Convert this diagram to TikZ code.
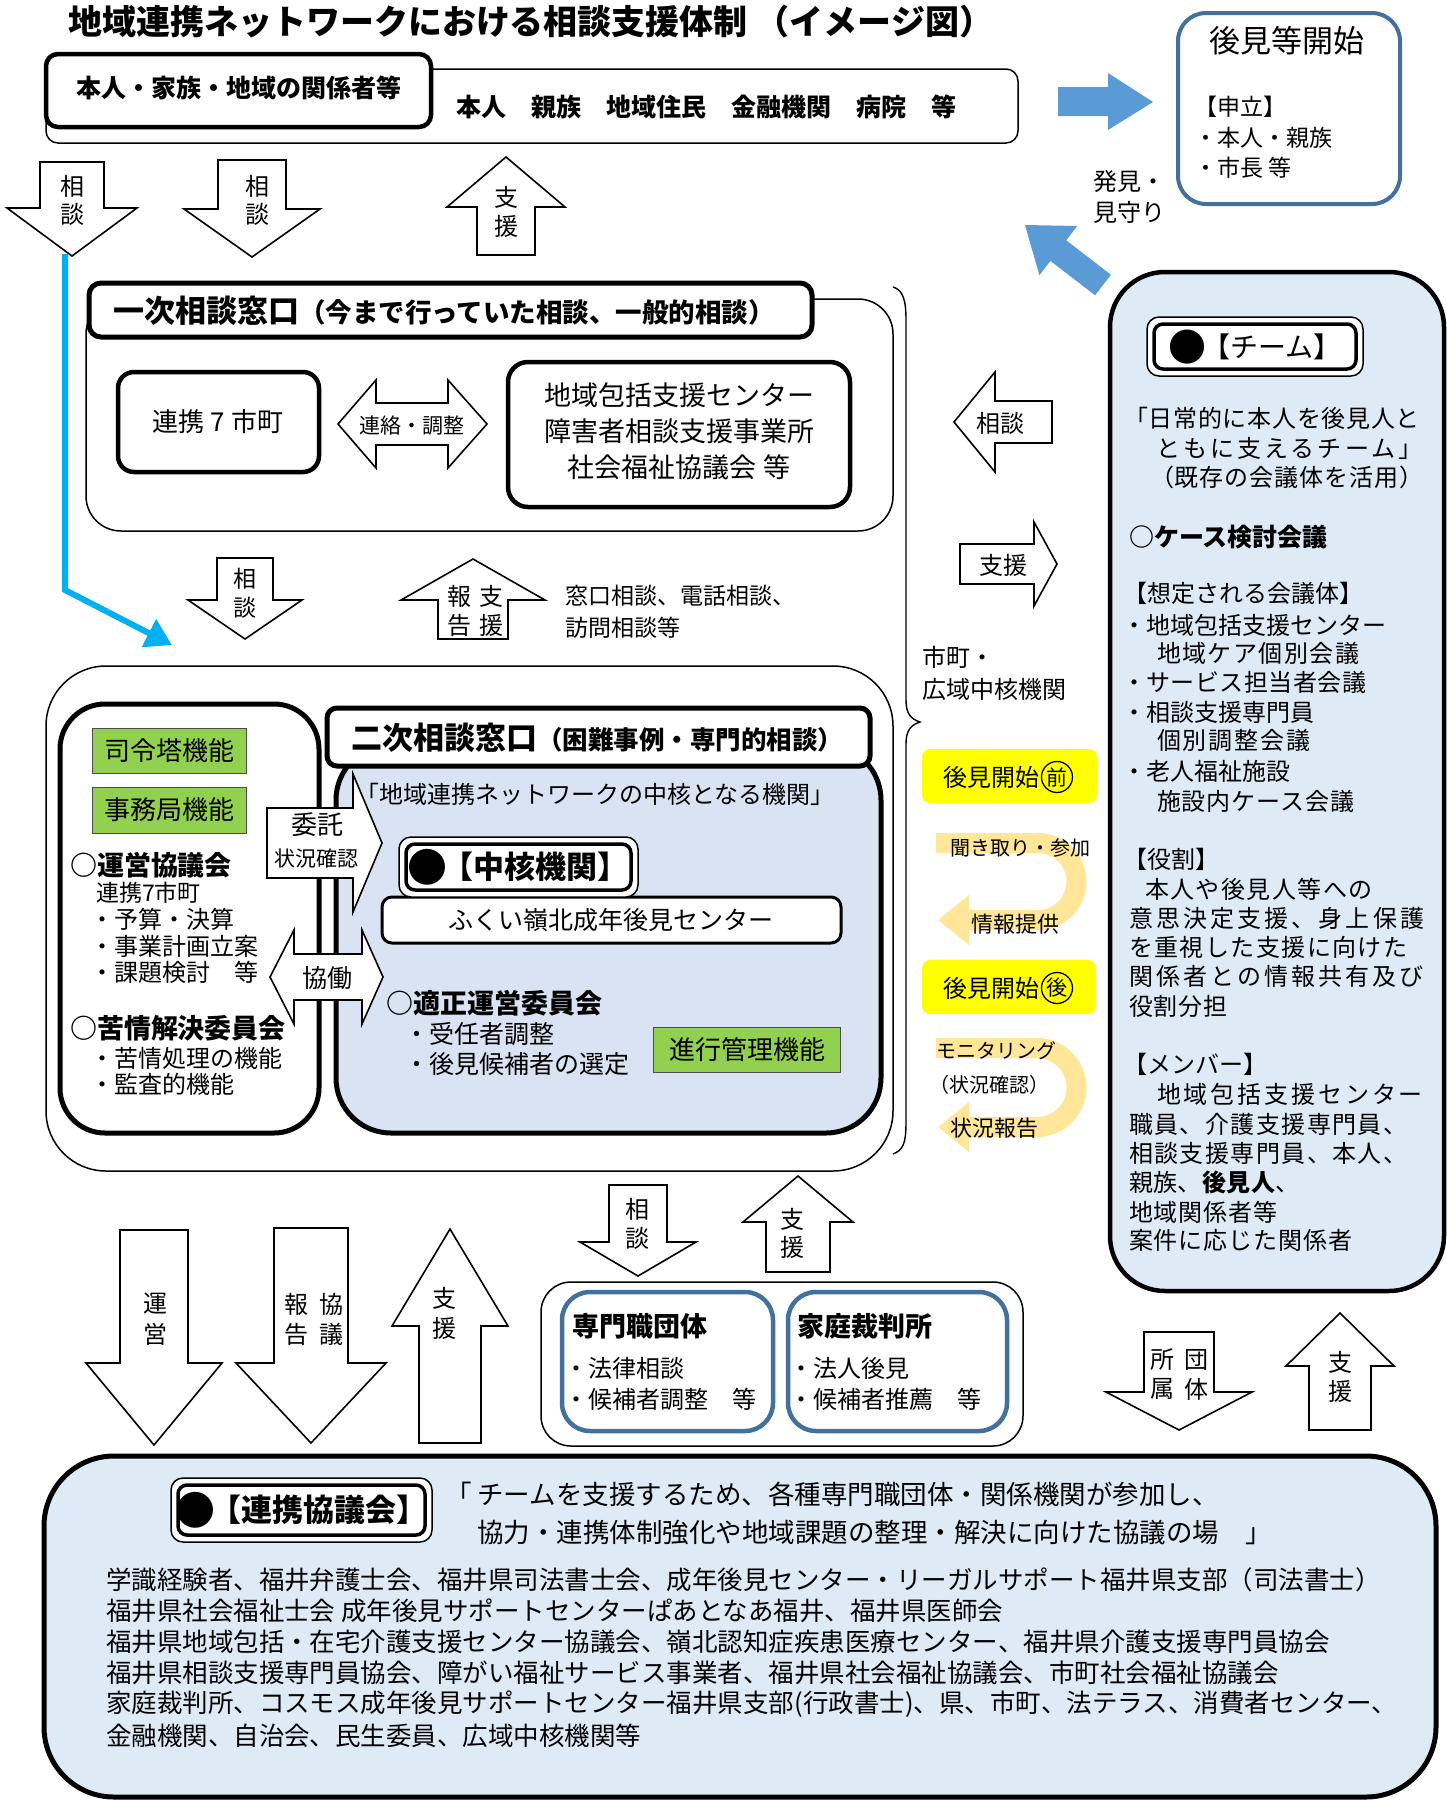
\documentclass[tikz,border=0pt]{standalone}
\usepackage{fontspec}
\setmainfont{Noto Sans CJK JP}
\usetikzlibrary{arrows.meta}
\definecolor{arrblue}{HTML}{5B9BD5}
\definecolor{cyanl}{HTML}{00B0F0}
\definecolor{bordblue}{HTML}{41719C}
\definecolor{teamfill}{HTML}{DEEBF7}
\definecolor{corefill}{HTML}{DAE3F3}
\definecolor{grn}{HTML}{92D050}
\definecolor{ylw}{HTML}{FFFF00}
\definecolor{org}{HTML}{FFE699}
\newcommand\fsz[1]{\fontsize{#1}{#1}\selectfont}
\newcommand\lsp[1]{\addfontfeature{LetterSpace=#1}}
\newcommand\bigdot[2]{\raisebox{#2}{\fontsize{#1}{#1}\selectfont ●}}
% vertical block arrow: cx, base y, shaft half, head base y, head half, tip y
\newcommand\vbarrow[6]{\draw[blk] ({#1-#3},#2) -- ({#1+#3},#2) -- ({#1+#3},#4) -- ({#1+#5},#4) -- (#1,#6) -- ({#1-#5},#4) -- ({#1-#3},#4) -- cycle;}
% horizontal block arrow: cy, tail x, shaft half, head base x, head half, tip x
\newcommand\hbarrow[6]{\draw[blk] (#2,{#1-#3}) -- (#4,{#1-#3}) -- (#4,{#1-#5}) -- (#6,#1) -- (#4,{#1+#5}) -- (#4,{#1+#3}) -- (#2,{#1+#3}) -- cycle;}
% double block arrow: cy, left tip, left head base, right head base, right tip, shaft half, head half
\newcommand\dbarrow[7]{\draw[blk] (#2,#1) -- (#3,{#1-#7}) -- (#3,{#1-#6}) -- (#4,{#1-#6}) -- (#4,{#1-#7}) -- (#5,#1) -- (#4,{#1+#7}) -- (#4,{#1+#6}) -- (#3,{#1+#6}) -- (#3,{#1+#7}) -- cycle;}
\begin{document}
\begin{tikzpicture}[x=1pt,y=-1pt,
  every node/.style={inner sep=0pt,outer sep=0pt},
  blk/.style={draw=black,line width=1.6pt,fill=white,line join=miter},
  lt/.style={anchor=west},
  gbox/.style={draw=black!70,line width=1pt,fill=grn},
  circ/.style={draw,circle,line width=1.3pt,minimum size=31pt,font=\fsz{21}},
  uturn/.style={org,line width=20pt,-{Triangle[length=31pt,width=48pt]}}]
\useasboundingbox (0,0) rectangle (1447,1800);
\fill[white] (0,0) rectangle (1447,1800);

% title
\node[lt,font=\fsz{34}\bfseries] (title) at (68,22) {地域連携ネットワークにおける相談支援体制 （イメージ図）};

% top persons box
\draw[line width=1.5pt,rounded corners=12pt] (46,69) rectangle (1018,143);
\draw[line width=4.5pt,rounded corners=12pt,fill=white] (46,54) rectangle (431,127);
\node[font=\fsz{25}\bfseries] (kankei) at (239,88) {本人・家族・地域の関係者等};
\node[lt,font=\fsz{25}\bfseries] (persons) at (456,107) {本人　親族　地域住民　金融機関　病院　等};

% blue arrow right
\fill[arrblue] (1058,87) -- (1108,87) -- (1108,73) -- (1153,102) -- (1108,130) -- (1108,116) -- (1058,116) -- cycle;

% guardianship start box
\draw[bordblue,line width=4pt,rounded corners=28pt,fill=white] (1178,13) rectangle (1400,204);
\node[font=\fsz{31}] (kouken) at (1287,41) {後見等開始};
\node[lt,font=\fsz{23}] (moushi) at (1194,107) {【申立】};
\node[lt,font=\fsz{23}] (moushi1) at (1194,138) {・本人・親族};
\node[lt,font=\fsz{23}] (moushi2) at (1194,168) {・市長 等};
\node[lt,font=\fsz{24}] (hakken1) at (1093,181) {発見・};
\node[lt,font=\fsz{24}] (hakken2) at (1093,212) {見守り};

% blue diagonal arrow
\fill[arrblue] (1110.9,274.7) -- (1066.2,240.3) -- (1077.2,226.0) -- (1025,225) -- (1039.4,275.2) -- (1050.4,260.9) -- (1095.1,295.3) -- cycle;

% top arrows
\vbarrow{72}{162}{32}{208}{65}{256}
\node[font=\fsz{24}] (s1a) at (72,186) {相};
\node[font=\fsz{24}] (s1b) at (72,214) {談};
\vbarrow{252}{160}{34}{209}{68}{257}
\node[font=\fsz{24}] (s2a) at (257,186) {相};
\node[font=\fsz{24}] (s2b) at (257,214) {談};
\vbarrow{506}{255}{29}{207}{59}{157}
\node[font=\fsz{24}] (s3a) at (506,197) {支};
\node[font=\fsz{24}] (s3b) at (506,226) {援};

% cyan line
\coordinate (cyA) at (65,254);
\coordinate (cyB) at (65,590);
\coordinate (cyC) at (172,645);
\draw[cyanl,line width=6pt,-{Triangle[length=26pt,width=30pt]}] (cyA) -- (cyB) -- (cyC);

% primary window
\draw[line width=1.5pt,rounded corners=35pt] (86,299) rectangle (893,531);
\draw[line width=5pt,rounded corners=12pt,fill=white] (89,283) rectangle (812,337);
\node[lt] (ichiji) at (113,311) {\fsz{31}\bfseries 一次相談窓口\fsz{26.5}（今まで行っていた相談、一般的相談）};
\draw[line width=4.5pt,rounded corners=16pt,fill=white] (118,372) rectangle (319,472);
\node[font=\fsz{26}] (renkei7) at (218,422) {連携 7 市町};
\dbarrow{424}{338}{376}{448}{487}{21}{44}
\node[font=\fsz{21}] (renraku) at (412,426) {連絡・調整};
\draw[line width=4.5pt,rounded corners=20pt,fill=white] (508,362) rectangle (850,507);
\node[font=\fsz{27}] (hk1) at (679,395) {地域包括支援センター};
\node[font=\fsz{27}] (hk2) at (679,431) {障害者相談支援事業所};
\node[font=\fsz{27}] (hk3) at (679,467) {社会福祉協議会 等};

% middle arrows
\vbarrow{245}{558}{28}{600}{57}{639}
\node[font=\fsz{23}] (m1a) at (245,579) {相};
\node[font=\fsz{23}] (m1b) at (245,608) {談};
\vbarrow{473}{639}{35}{600}{72}{559}
\node[font=\fsz{24}] (m2a) at (459,596) {報};
\node[font=\fsz{24}] (m2b) at (491,596) {支};
\node[font=\fsz{24}] (m2c) at (459,625) {告};
\node[font=\fsz{24}] (m2d) at (491,625) {援};
\node[lt,font=\fsz{23}] (madoguchi1) at (565,596) {窓口相談、電話相談、};
\node[lt,font=\fsz{23}] (madoguchi2) at (565,628) {訪問相談等};

% brace
\draw[line width=1.4pt] (893,287) .. controls (903,290) and (906,300) .. (906,320) -- (906,700) .. controls (906,714) and (911,719) .. (920,722) .. controls (911,725) and (906,730) .. (906,744) -- (906,1122) .. controls (906,1144) and (903,1150) .. (893,1154);

% side arrows
\hbarrow{422}{1052}{21}{995}{50}{954}
\node[font=\fsz{24}] (sd1) at (1000,423) {相談};
\hbarrow{564}{960}{20}{1034}{42}{1057}
\node[font=\fsz{24}] (sd2) at (1003,565) {支援};
\node[lt,font=\fsz{24}] (shicho1) at (922,657) {市町・};
\node[lt,font=\fsz{24}] (shicho2) at (922,689) {広域中核機関};

% before / after
\fill[ylw,rounded corners=8pt] (922,749) rectangle (1097,803);
\node[font=\fsz{24}] (mae) at (991,777) {後見開始};
\node[circ] (maec) at (1057,777) {前};
\draw[uturn] (936,843) -- (1038,843) arc[start angle=-90,end angle=90,radius=38.5] -- (938,920);
\node[lt,font=\fsz{20}] (kiki) at (950,848) {聞き取り・参加};
\node[font=\fsz{22}] (joho) at (1015,924) {情報提供};
\fill[ylw,rounded corners=8pt] (922,960) rectangle (1096,1014);
\node[font=\fsz{24}] (ato) at (991,988) {後見開始};
\node[circ] (atoc) at (1057,988) {後};
\draw[uturn] (936,1048) -- (1037,1048) arc[start angle=-90,end angle=90,radius=39.5] -- (938,1127);
\node[lt,font=\fsz{20}] (moni) at (936,1051) {モニタリング};
\node[lt,font=\fsz{20}] (moni2) at (929,1085) {（状況確認）};
\node[lt,font=\fsz{22}] (hokoku) at (950,1128) {状況報告};

% team box
\draw[line width=4.5pt,fill=teamfill,rounded corners=55pt] (1110,272) rectangle (1444,1291);
\draw[line width=1.5pt,fill=white,rounded corners=12pt] (1147,317) rectangle (1363,376);
\draw[line width=3.5pt,rounded corners=9pt] (1154,324) rectangle (1356,369);
\node[font=\fsz{28}] (team) at (1255,347) {\bigdot{38}{-3.8pt}\hspace{-4pt}【チーム】};
\begin{scope}[every node/.append style={anchor=west,font=\fsz{24}}]
\node (tm1) at (1124,418) {\lsp{3}「日常的に本人を後見人と};
\node (tm2) at (1156,448) {\lsp{13}ともに支えるチーム」};
\node (tm3) at (1150,477) {\lsp{4}（既存の会議体を活用）};
\node[font=\fsz{25}\bfseries] (tm4) at (1129,537) {○ケース検討会議};
\node (tm5) at (1123,593) {【想定される会議体】};
\node (tm6) at (1122,625) {・地域包括支援センター};
\node (tm7) at (1157,653) {\lsp{6}地域ケア個別会議};
\node (tm8) at (1122,682) {\lsp{2}・サービス担当者会議};
\node (tm9) at (1122,712) {・相談支援専門員};
\node (tm10) at (1157,740) {\lsp{8}個別調整会議};
\node (tm11) at (1122,771) {・老人福祉施設};
\node (tm12) at (1157,801) {\lsp{4}施設内ケース会議};
\node (tm13) at (1123,859) {【役割】};
\node (tm14) at (1145,889) {\lsp{6}本人や後見人等への};
\node (tm15) at (1129,918) {\lsp{13}意思決定支援、身上保護};
\node (tm16) at (1129,947) {\lsp{6}を重視した支援に向けた};
\node (tm17) at (1129,976) {\lsp{13}関係者との情報共有及び};
\node (tm18) at (1129,1006) {\lsp{4}役割分担};
\node (tm19) at (1123,1064) {【メンバー】};
\node (tm20) at (1157,1094) {\lsp{12}地域包括支援センター};
\node (tm21) at (1129,1124) {\lsp{6}職員、介護支援専門員、};
\node (tm22) at (1129,1153) {\lsp{6}相談支援専門員、本人、};
\node (tm23) at (1129,1182) {\lsp{2}親族、\textbf{後見人}、};
\node (tm24) at (1129,1212) {\lsp{4}地域関係者等};
\node (tm25) at (1129,1240) {\lsp{4}案件に応じた関係者};
\end{scope}

% secondary window group
\draw[line width=1.5pt,rounded corners=60pt] (46,666) rectangle (893,1171);
\draw[line width=5pt,fill=white,rounded corners=45pt] (60,704) rectangle (319,1133);
\node[gbox,minimum width=154pt,minimum height=45pt,font=\fsz{26}] (shirei) at (169,751) {司令塔機能};
\node[gbox,minimum width=154pt,minimum height=46pt,font=\fsz{26}] (jimu) at (169,810) {事務局機能};
\node[lt,font=\fsz{27}\bfseries] (unei) at (70,865) {○運営協議会};
\node[lt,font=\fsz{23}] (u1) at (96,893) {連携7市町};
\node[lt,font=\fsz{24}] (u2) at (90,919) {・予算・決算};
\node[lt,font=\fsz{24}] (u3) at (90,946) {・事業計画立案};
\node[lt,font=\fsz{24}] (u4) at (90,972) {・課題検討　等};
\node[lt,font=\fsz{27}\bfseries] (kujo) at (70,1028) {○苦情解決委員会};
\node[lt,font=\fsz{24}] (k1) at (90,1058) {・苦情処理の機能};
\node[lt,font=\fsz{24}] (k2) at (90,1084) {・監査的機能};

\draw[line width=5pt,fill=corefill,rounded corners=55pt] (336,745) rectangle (881,1133);
\draw[line width=5pt,fill=white,rounded corners=10pt] (327,708) rectangle (870,766);
\node[lt] (niji) at (351,738) {\fsz{31}\bfseries 二次相談窓口\fsz{25.5}（困難事例・専門的相談）};
\node[lt,font=\fsz{24}] (chukaku0) at (355,794) {「地域連携ネットワークの中核となる機関」};
\draw[line width=3pt,fill=white,rounded corners=10pt] (382,897) rectangle (841,943);
\node[font=\fsz{25}] (fukui) at (611,920) {ふくい嶺北成年後見センター};
\draw[line width=1.5pt,fill=white,rounded corners=12pt] (399,837) rectangle (638,897);
\draw[line width=3.5pt,rounded corners=9pt] (406,844) rectangle (631,890);
\node[font=\fsz{31}\bfseries] (chukaku) at (518,867) {\bigdot{40}{-3.5pt}\hspace{-5pt}【中核機関】};
\node[lt,font=\fsz{27}\bfseries] (tekisei) at (386,1003) {○適正運営委員会};
\node[lt,font=\fsz{25}] (t1) at (404,1034) {・受任者調整};
\node[lt,font=\fsz{25}] (t2) at (404,1064) {・後見候補者の選定};
\node[gbox,minimum width=187pt,minimum height=45pt,font=\fsz{26}] (shinko) at (747,1050) {進行管理機能};

\hbarrow{843}{267}{35}{353}{69}{382}
\node[font=\fsz{26}] (itaku) at (317,825) {委託};
\node[font=\fsz{21}] (jokyo) at (316,859) {状況確認};
\dbarrow{977}{270}{294}{362}{383}{23}{47}
\node[font=\fsz{25}] (kyodo) at (327,978) {協働};

% bottom arrows
\vbarrow{154}{1230}{34}{1363}{68}{1445}
\node[font=\fsz{24}] (b1a) at (155,1304) {運};
\node[font=\fsz{24}] (b1b) at (155,1334) {営};
\vbarrow{311}{1228}{37}{1363}{75}{1443}
\node[font=\fsz{24}] (b2a) at (296,1304) {報};
\node[font=\fsz{24}] (b2b) at (331,1304) {協};
\node[font=\fsz{24}] (b2c) at (296,1334) {告};
\node[font=\fsz{24}] (b2d) at (331,1334) {議};
\vbarrow{450}{1443}{31}{1326}{58}{1229}
\node[font=\fsz{24}] (b3a) at (444,1298) {支};
\node[font=\fsz{24}] (b3b) at (444,1328) {援};
\vbarrow{638}{1185}{29}{1242}{58}{1276}
\node[font=\fsz{24}] (b4a) at (637,1209) {相};
\node[font=\fsz{24}] (b4b) at (637,1238) {談};
\vbarrow{798}{1272}{32}{1222}{55}{1176}
\node[font=\fsz{24}] (b5a) at (792,1219) {支};
\node[font=\fsz{24}] (b5b) at (792,1247) {援};
\vbarrow{1179}{1332}{35}{1392}{73}{1430}
\node[font=\fsz{24}] (b6a) at (1162,1360) {所};
\node[font=\fsz{24}] (b6b) at (1196,1360) {団};
\node[font=\fsz{24}] (b6c) at (1162,1389) {属};
\node[font=\fsz{24}] (b6d) at (1196,1389) {体};
\vbarrow{1340}{1430}{31}{1366}{54}{1313}
\node[font=\fsz{24}] (b7a) at (1340,1362) {支};
\node[font=\fsz{24}] (b7b) at (1340,1391) {援};

% professional groups / family court
\draw[line width=1.5pt,rounded corners=30pt,fill=white] (541,1282) rectangle (1023,1446);
\draw[bordblue,line width=4.5pt,rounded corners=28pt] (562,1292) rectangle (773,1431);
\draw[bordblue,line width=4.5pt,rounded corners=28pt] (788,1292) rectangle (1007,1431);
\node[lt,font=\fsz{27}\bfseries] (senmon) at (572,1326) {専門職団体};
\node[lt,font=\fsz{24}] (sen1) at (564,1368) {・法律相談};
\node[lt,font=\fsz{24}] (sen2) at (564,1399) {・候補者調整　等};
\node[lt,font=\fsz{27}\bfseries] (katei) at (797,1326) {家庭裁判所};
\node[lt,font=\fsz{24}] (kat1) at (789,1368) {・法人後見};
\node[lt,font=\fsz{24}] (kat2) at (789,1399) {・候補者推薦　等};

% council box
\draw[line width=5pt,fill=teamfill,rounded corners=70pt] (44,1456) rectangle (1436,1797);
\draw[line width=1.5pt,fill=white,rounded corners=12pt] (171,1478) rectangle (432,1542);
\draw[line width=3.5pt,rounded corners=9pt] (178,1485) rectangle (425,1535);
\node[font=\fsz{31}\bfseries] (kyogikai) at (301,1510) {\bigdot{40}{-3.5pt}\hspace{-5pt}【連携協議会】};
\node[lt,font=\fsz{26.5}] (q1) at (445,1494) {「 チームを支援するため、各種専門職団体・関係機関が参加し、};
\node[lt,font=\fsz{26.5}] (q2) at (477,1532) {協力・連携体制強化や地域課題の整理・解決に向けた協議の場　」};
\begin{scope}[every node/.append style={anchor=west,font=\fsz{25.5}}]
\node (c1) at (106,1580) {学識経験者、福井弁護士会、福井県司法書士会、成年後見センター・リーガルサポート福井県支部（司法書士）};
\node (c2) at (106,1611) {福井県社会福祉士会 成年後見サポートセンターぱあとなあ福井、福井県医師会};
\node (c3) at (106,1642) {福井県地域包括・在宅介護支援センター協議会、嶺北認知症疾患医療センター、福井県介護支援専門員協会};
\node (c4) at (106,1673) {福井県相談支援専門員協会、障がい福祉サービス事業者、福井県社会福祉協議会、市町社会福祉協議会};
\node (c5) at (106,1704) {家庭裁判所、コスモス成年後見サポートセンター福井県支部(行政書士)、県、市町、法テラス、消費者センター、};
\node (c6) at (106,1736) {金融機関、自治会、民生委員、広域中核機関等};
\end{scope}
\end{tikzpicture}
\end{document}
